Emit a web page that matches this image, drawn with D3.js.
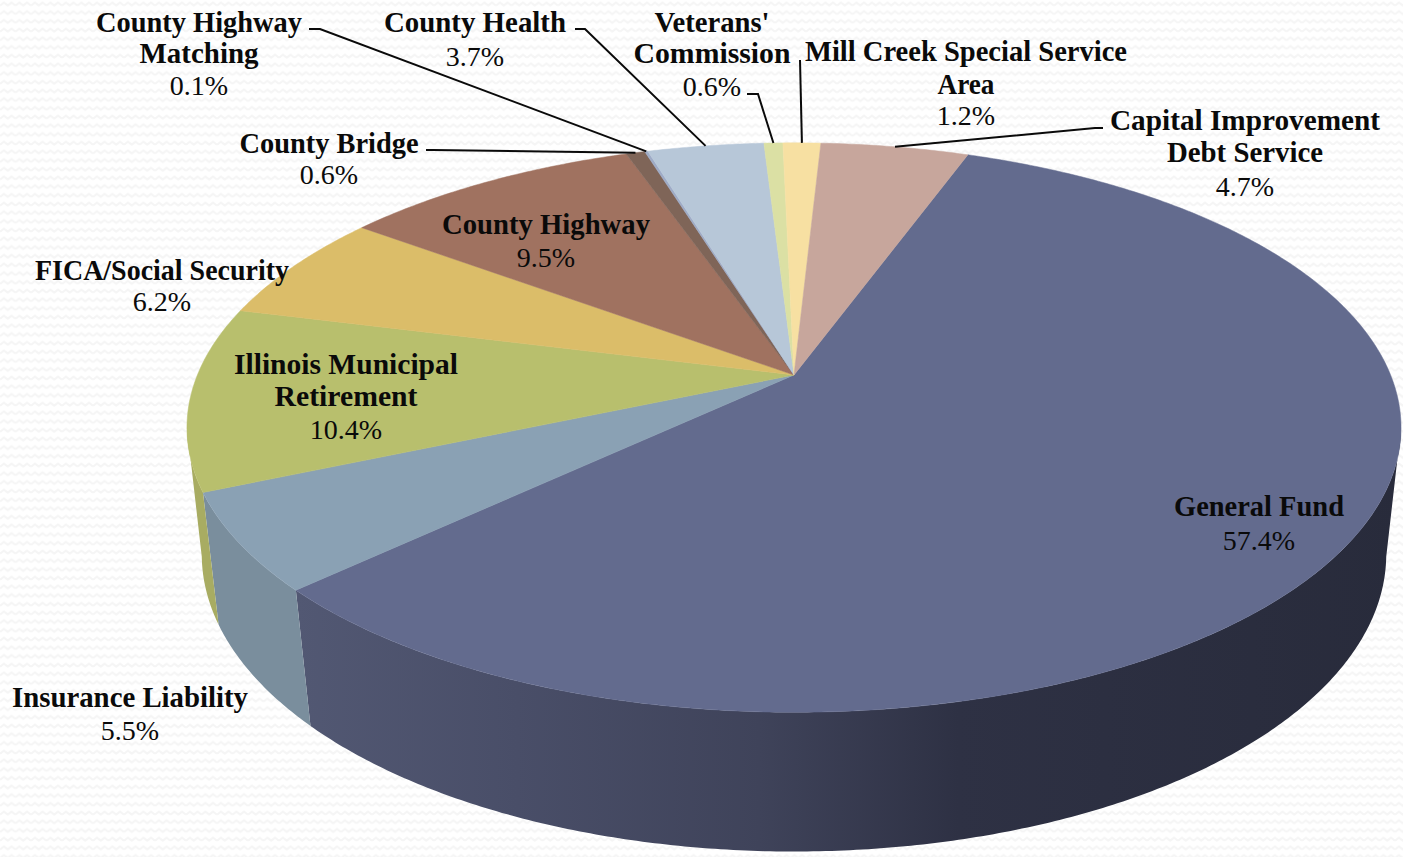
<!DOCTYPE html>
<html lang="en">
<head>
<meta charset="UTF-8">
<title>County Funds</title>
<script src="https://d3js.org/d3.v7.min.js"></script>
<style>
	html, body { margin: 0; padding: 0; background: #fff; overflow: hidden; }
	text { font-family: "Liberation Serif", serif; fill: #0a0a0a; text-anchor: middle; }
	.name { font-weight: bold; font-size: 29px; }
	.value { font-size: 28px; }
</style>
</head>
<body>
<div id="chart"></div>
<script>
	const categories = ["General Fund", "Insurance Liability", "Illinois Municipal Retirement", "FICA/Social Security", "County Highway", "County Bridge", "County Highway Matching", "County Health", "Veterans' Commission", "Mill Creek Special Service Area", "Capital Improvement Debt Service"];
	const values = [57.4, 5.5, 10.4, 6.2, 9.5, 0.6, 0.1, 3.7, 0.6, 1.2, 4.7];
	const topColors = ["#636b8e", "#8aa1b4", "#b8bf6d", "#dbbd69", "#a07260", "#7f6558", "#9eabc6", "#b7c7d8", "#dbe0a4", "#f7e0a2", "#c7a69c"];
	const wallColors = ["url(#wallGeneral)", "#7a8e9d", "#a8ac62"];

	// label layout: x centre, line widths, baselines for each text line, last baseline is the percent
	const labelLayout = [
		{ x: 1259, lines: ["General Fund"], ws: [170], ys: [516, 550] },
		{ x: 130, lines: ["Insurance Liability"], ws: [236], ys: [707, 740] },
		{ x: 346, lines: ["Illinois Municipal", "Retirement"], ws: [224, 143], ys: [374, 406, 439] },
		{ x: 162, lines: ["FICA/Social Security"], ws: [254], ys: [280, 311] },
		{ x: 546, lines: ["County Highway"], ws: [208], ys: [234, 267] },
		{ x: 329, lines: ["County Bridge"], ws: [179], ys: [153, 184] },
		{ x: 199, lines: ["County Highway", "Matching"], ws: [206, 119], ys: [32, 63, 95] },
		{ x: 475, lines: ["County Health"], ws: [182], ys: [32, 66] },
		{ x: 712, lines: ["Veterans'", "Commission"], ws: [115, 157], ys: [32, 63, 96] },
		{ x: 966, lines: ["Mill Creek Special Service", "Area"], ws: [322, 57], ys: [61, 94, 125] },
		{ x: 1245, lines: ["Capital Improvement", "Debt Service"], ws: [270, 156], ys: [130, 162, 196] }
	];

	// leader lines start next to the label, end on the rim at the slice middle
	const leaders = [
		{ i: 6, from: [[309, 29], [320, 29]] },
		{ i: 5, from: [[426, 150], [433, 150]] },
		{ i: 7, from: [[575, 29], [585, 29]] },
		{ i: 8, from: [[747, 94], [758, 94]] },
		{ i: 9, from: [[800, 60]] },
		{ i: 10, from: [[1103, 128], [1095, 128]] }
	];

	const width = 1403, height = 857;
	const rad = Math.PI / 180;

	// perspective view of the two circles of the pie, top face and bottom face
	const topPlane = { cx: 794, cy: 375, a: 596.6, b: 275, k: 0.1846 };
	const lowPlane = { cx: 794, cy: 502, a: 583, b: 288, k: 0.176 };

	function project(plane, angle, r = 1) {
		const u = r * Math.sin(angle), v = r * Math.cos(angle);
		const w = 1 + plane.k * v;
		return [plane.cx + plane.a * u / w, plane.cy - plane.b * v / w];
	}
	function arcPoints(plane, a0, a1) {
		const n = Math.max(2, Math.ceil(Math.abs(a1 - a0) / (0.5 * rad)));
		return d3.range(n + 1).map(i => project(plane, a0 + (a1 - a0) * i / n));
	}

	const line = d3.line();

	const pie = d3.pie().sort(null).startAngle(20 * rad).endAngle((360 + 20) * rad);
	const slices = pie(values);

	const svg = d3.select("#chart").append("svg")
		.attr("width", width)
		.attr("height", height);

	const defs = svg.append("defs");
	const pattern = defs.append("pattern")
		.attr("id", "zigzag")
		.attr("patternUnits", "userSpaceOnUse")
		.attr("width", 15.5)
		.attr("height", 8.7);
	pattern.append("path")
		.attr("d", "M0,5.5 L3.9,2.5 L7.75,5.5 L11.6,2.5 L15.5,5.5")
		.attr("fill", "none")
		.attr("stroke", "#f5f5f5")
		.attr("stroke-width", 2);

	const grad = defs.append("linearGradient")
		.attr("id", "wallGeneral")
		.attr("gradientUnits", "userSpaceOnUse")
		.attr("x1", 296).attr("y1", 0)
		.attr("x2", 1400).attr("y2", 0);
	[[0, "#525873"], [0.2, "#494e68"], [0.42, "#3f435a"], [0.6, "#2e3144"], [1, "#282b3b"]].forEach(s => {
		grad.append("stop").attr("offset", s[0]).attr("stop-color", s[1]);
	});

	svg.append("rect")
		.attr("width", width)
		.attr("height", height)
		.attr("fill", "url(#zigzag)");

	// side walls, only the part facing the viewer
	const wallFrom = 100.6 * rad, wallTo = 259.4 * rad;
	svg.append("g").selectAll("path")
		.data(slices.filter(d => d.endAngle > wallFrom && d.startAngle < wallTo))
		.join("path")
		.attr("d", d => {
			const a0 = Math.max(d.startAngle, wallFrom), a1 = Math.min(d.endAngle, wallTo);
			return line(arcPoints(topPlane, a0, a1).concat(arcPoints(lowPlane, a1, a0))) + "Z";
		})
		.attr("fill", (d, i) => wallColors[i]);

	// top face
	svg.append("g").selectAll("path")
		.data(slices)
		.join("path")
		.attr("d", d => line([[topPlane.cx, topPlane.cy]].concat(arcPoints(topPlane, d.startAngle, d.endAngle))) + "Z")
		.attr("fill", (d, i) => topColors[i])
		.attr("stroke", (d, i) => topColors[i])
		.attr("stroke-width", 0.5);

	// leader lines
	svg.append("g").selectAll("path")
		.data(leaders)
		.join("path")
		.attr("d", d => {
			const s = slices[d.i];
			return line(d.from.concat([project(topPlane, (s.startAngle + s.endAngle) / 2)]));
		})
		.attr("fill", "none")
		.attr("stroke", "#0a0a0a")
		.attr("stroke-width", 2);

	// labels
	svg.append("g").selectAll("text")
		.data(labelLayout.flatMap((d, i) => [
			...d.lines.map((t, j) => ({ x: d.x, y: d.ys[j], text: t, cls: "name", w: d.ws[j] })),
			{ x: d.x, y: d.ys[d.lines.length], text: d3.format(".1f")(values[i]) + "%", cls: "value" }
		]))
		.join("text")
		.attr("class", d => d.cls)
		.attr("x", d => d.x)
		.attr("y", d => d.y)
		.attr("textLength", d => d.w || null)
		.attr("lengthAdjust", "spacingAndGlyphs")
		.text(d => d.text);
</script>
</body>
</html>
